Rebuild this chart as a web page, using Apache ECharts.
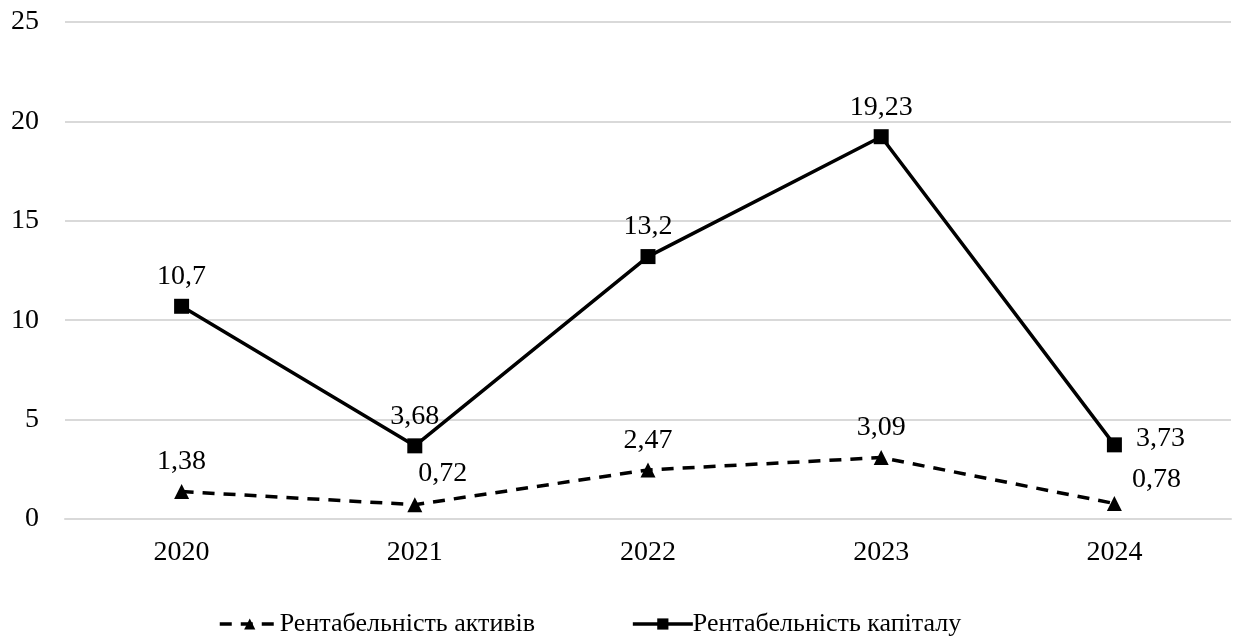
<!DOCTYPE html>
<html lang="uk">
<head>
    <meta charset="UTF-8">
    <title>Рентабельність</title>
    <script src="https://cdn.jsdelivr.net/npm/echarts/dist/echarts.min.js"></script>
    <style>
        html, body { margin: 0; padding: 0; background: #fff; }
        #chart { width: 1237px; height: 643px; }
    </style>
</head>
<body>
    <div id="chart"></div>
    <script>
        // дані
        let years = ['2020', '2021', '2022', '2023', '2024'];
        let roa = [1.38, 0.72, 2.47, 3.09, 0.78];   // рентабельність активів
        let roe = [10.7, 3.68, 13.2, 19.23, 3.73];  // рентабельність капіталу

        let fontFamily = 'Liberation Serif';
        let fmt = p => String(p.value).replace('.', ',');

        let chart = echarts.init(document.getElementById('chart'));
        let option = {
            animation: false,
            textStyle: { fontFamily: fontFamily, color: '#000' },
            legend: {
                top: 606,
                left: 213,
                itemGap: 96,
                itemWidth: 60,
                itemHeight: 14,
                textStyle: { fontSize: 26, color: '#000', fontFamily: fontFamily, padding: [0, 0, 0, -5] },
                data: [
                    { name: 'Рентабельність активів', lineStyle: { width: 3.5 } },
                    { name: 'Рентабельність капіталу', lineStyle: { width: 3.5 } }
                ]
            },
            grid: { left: 65, right: 6, top: 22, bottom: 124 },
            xAxis: {
                type: 'category',
                data: years,
                axisLine: { lineStyle: { color: '#d9d9d9', width: 2 } },
                axisTick: { show: false },
                axisLabel: { fontSize: 28, color: '#000', margin: 20, fontFamily: fontFamily }
            },
            yAxis: {
                type: 'value',
                min: 0,
                max: 25,
                interval: 5,
                axisLine: { show: false },
                axisTick: { show: false },
                splitLine: { lineStyle: { color: '#d9d9d9', width: 2 } },
                axisLabel: { fontSize: 28, color: '#000', margin: 26, fontFamily: fontFamily }
            },
            series: [
                {
                    name: 'Рентабельність активів',
                    type: 'line',
                    data: roa,
                    symbol: 'triangle',
                    symbolSize: 15,
                    itemStyle: { color: '#000' },
                    lineStyle: { color: '#000', width: 3.5, type: [12, 9] },
                    label: {
                        show: true,
                        position: 'top',
                        distance: 8,
                        fontSize: 28,
                        color: '#000',
                        fontFamily: fontFamily,
                        formatter: fmt
                    },
                    labelLayout: function (params) {
                        if (params.dataIndex === 1) return { dx: 28, dy: -2 };
                        if (params.dataIndex === 4) return { dx: 42, dy: 6 };
                        return {};
                    }
                },
                {
                    name: 'Рентабельність капіталу',
                    type: 'line',
                    data: roe,
                    symbol: 'rect',
                    symbolSize: 15,
                    itemStyle: { color: '#000' },
                    lineStyle: { color: '#000', width: 3.5 },
                    label: {
                        show: true,
                        position: 'top',
                        distance: 8,
                        fontSize: 28,
                        color: '#000',
                        fontFamily: fontFamily,
                        formatter: fmt
                    },
                    labelLayout: function (params) {
                        if (params.dataIndex === 4) return { dx: 46, dy: 23 };
                        return {};
                    }
                }
            ]
        };
        chart.setOption(option);
    </script>
</body>
</html>
